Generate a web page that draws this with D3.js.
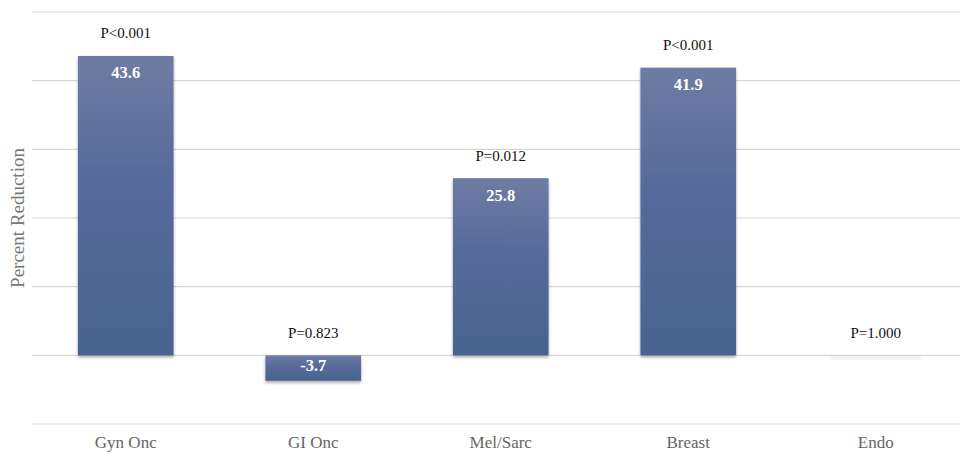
<!DOCTYPE html>
<html>
<head>
<meta charset="utf-8">
<script src="https://cdn.jsdelivr.net/npm/d3@7"></script>
<style>
  html, body { margin: 0; padding: 0; background: #fff; }
  svg { display: block; }
</style>
</head>
<body>
<svg id="chart" width="960" height="453"></svg>
<script>
// Percent reduction by service line
const categories = ["Gyn Onc", "GI Onc", "Mel/Sarc", "Breast", "Endo"];
const values = [43.6, -3.7, 25.8, 41.9, 0.0];
const valueLabels = ["43.6", "-3.7", "25.8", "41.9", ""];
const pLabels = ["P<0.001", "P=0.823", "P=0.012", "P<0.001", "P=1.000"];
const gridTicks = [-10, 0, 10, 20, 30, 40, 50];
const yTitle = "Percent Reduction";

const svg = d3.select("#chart");
const W = 960, H = 453;
const plotLeft = 32, plotRight = 969.5, plotTop = 12, plotBottom = 424;

const x = d3.scaleBand().domain(categories).range([plotLeft, plotRight]).paddingInner(0.49).paddingOuter(0.245);
const y = d3.scaleLinear().domain([-10, 50]).range([plotBottom, plotTop]);

const serif = "'Liberation Serif', 'Times New Roman', serif";

const defs = svg.append("defs");
const grad = defs.append("linearGradient").attr("id", "barGrad")
  .attr("x1", 0).attr("y1", 0).attr("x2", 0).attr("y2", 1);
grad.append("stop").attr("offset", "0%").attr("stop-color", "#6d7ca3");
grad.append("stop").attr("offset", "45%").attr("stop-color", "#55699a");
grad.append("stop").attr("offset", "100%").attr("stop-color", "#49648f");

const shadow = defs.append("filter").attr("id", "shadow")
  .attr("x", "-10%").attr("y", "-10%").attr("width", "120%").attr("height", "130%");
shadow.append("feDropShadow").attr("dx", 0).attr("dy", 2).attr("stdDeviation", 1.6)
  .attr("flood-color", "#000").attr("flood-opacity", 0.35);

const softShadow = defs.append("filter").attr("id", "softShadow")
  .attr("x", "-10%").attr("y", "-200%").attr("width", "120%").attr("height", "500%");
softShadow.append("feGaussianBlur").attr("stdDeviation", 1.5);

// horizontal gridlines
svg.append("g").selectAll("line").data(gridTicks).join("line")
  .attr("x1", plotLeft).attr("x2", W)
  .attr("y1", d => y(d)).attr("y2", d => y(d))
  .attr("stroke", "#ddd5d5").attr("stroke-width", 1.2);

// faint shadow under zero-height bars
svg.append("g").selectAll("rect").data(categories.filter((d, i) => values[i] === 0)).join("rect")
  .attr("x", d => x(d) + 2)
  .attr("width", x.bandwidth() - 4)
  .attr("y", y(0) + 1)
  .attr("height", 2)
  .attr("fill", "#cfcfd4")
  .attr("opacity", 0.6)
  .attr("filter", "url(#softShadow)");

// bars
svg.append("g").selectAll("rect").data(categories.filter((d, i) => values[i] !== 0)).join("rect")
  .attr("x", d => x(d))
  .attr("width", x.bandwidth())
  .attr("y", d => y(Math.max(0, values[categories.indexOf(d)])))
  .attr("height", d => Math.abs(y(values[categories.indexOf(d)]) - y(0)))
  .attr("fill", "url(#barGrad)")
  .attr("filter", "url(#shadow)");

// value labels inside bars
svg.append("g").selectAll("text").data(categories).join("text")
  .attr("x", d => x(d) + x.bandwidth() / 2)
  .attr("y", (d, i) => values[i] >= 0 ? y(values[i]) + 22.5 : y(0) + 15.5)
  .attr("text-anchor", "middle")
  .style("font-family", serif).style("font-weight", "bold").style("font-size", "16.5px")
  .attr("fill", "#fff")
  .text((d, i) => valueLabels[i]);

// p-value labels above bars
svg.append("g").selectAll("text").data(categories).join("text")
  .attr("x", d => x(d) + x.bandwidth() / 2)
  .attr("y", (d, i) => y(Math.max(0, values[i])) - 17.5)
  .attr("text-anchor", "middle")
  .style("font-family", serif).style("font-size", "15px")
  .attr("fill", "#111")
  .text((d, i) => pLabels[i]);

// category axis
const xAxis = svg.append("g").attr("transform", `translate(0,${plotBottom})`)
  .call(d3.axisBottom(x).tickSize(0).tickPadding(12));
xAxis.select(".domain").remove();
xAxis.selectAll("text")
  .style("font-family", serif).style("font-size", "17px").attr("fill", "#666");

// y-axis title
svg.append("text")
  .attr("transform", `translate(24,${(plotTop + plotBottom) / 2}) rotate(-90)`)
  .attr("text-anchor", "middle")
  .style("font-family", serif).style("font-size", "19px").attr("fill", "#777")
  .text(yTitle);
</script>
</body>
</html>
